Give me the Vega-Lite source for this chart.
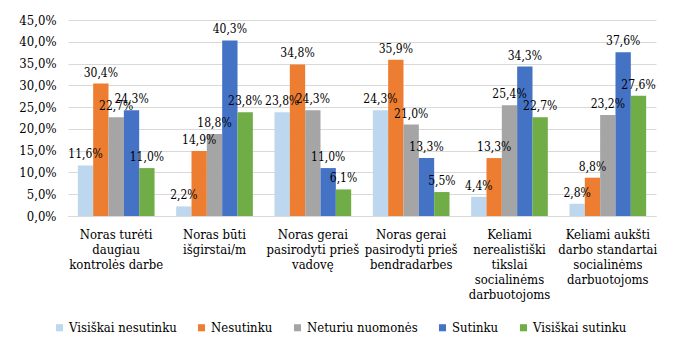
{
  "$schema": "https://vega.github.io/schema/vega-lite/v6.json",
  "autosize": "none",
  "width": 588,
  "height": 196,
  "padding": {"left": 68, "top": 20, "right": 44, "bottom": 132},
  "background": "white",
  "config": {
    "locale": {"number": {"decimal": ",", "thousands": " ", "grouping": [3], "currency": ["", " €"]}},
    "font": "'DejaVu Serif Condensed', 'DejaVu Serif', serif",
    "view": {"stroke": null}
  },
  "data": {
    "values": [
      {"cat": "Noras turėti|daugiau|kontrolės darbe", "ans": "Visiškai nesutinku", "v": 0.116},
      {"cat": "Noras turėti|daugiau|kontrolės darbe", "ans": "Nesutinku", "v": 0.304},
      {"cat": "Noras turėti|daugiau|kontrolės darbe", "ans": "Neturiu nuomonės", "v": 0.227},
      {"cat": "Noras turėti|daugiau|kontrolės darbe", "ans": "Sutinku", "v": 0.243},
      {"cat": "Noras turėti|daugiau|kontrolės darbe", "ans": "Visiškai sutinku", "v": 0.110},
      {"cat": "Noras būti|išgirstai/m", "ans": "Visiškai nesutinku", "v": 0.022},
      {"cat": "Noras būti|išgirstai/m", "ans": "Nesutinku", "v": 0.149},
      {"cat": "Noras būti|išgirstai/m", "ans": "Neturiu nuomonės", "v": 0.188},
      {"cat": "Noras būti|išgirstai/m", "ans": "Sutinku", "v": 0.403},
      {"cat": "Noras būti|išgirstai/m", "ans": "Visiškai sutinku", "v": 0.238},
      {"cat": "Noras gerai|pasirodyti prieš|vadovę", "ans": "Visiškai nesutinku", "v": 0.238},
      {"cat": "Noras gerai|pasirodyti prieš|vadovę", "ans": "Nesutinku", "v": 0.348},
      {"cat": "Noras gerai|pasirodyti prieš|vadovę", "ans": "Neturiu nuomonės", "v": 0.243},
      {"cat": "Noras gerai|pasirodyti prieš|vadovę", "ans": "Sutinku", "v": 0.110},
      {"cat": "Noras gerai|pasirodyti prieš|vadovę", "ans": "Visiškai sutinku", "v": 0.061},
      {"cat": "Noras gerai|pasirodyti prieš|bendradarbes", "ans": "Visiškai nesutinku", "v": 0.243},
      {"cat": "Noras gerai|pasirodyti prieš|bendradarbes", "ans": "Nesutinku", "v": 0.359},
      {"cat": "Noras gerai|pasirodyti prieš|bendradarbes", "ans": "Neturiu nuomonės", "v": 0.210},
      {"cat": "Noras gerai|pasirodyti prieš|bendradarbes", "ans": "Sutinku", "v": 0.133},
      {"cat": "Noras gerai|pasirodyti prieš|bendradarbes", "ans": "Visiškai sutinku", "v": 0.055},
      {"cat": "Keliami|nerealistiški|tikslai|socialinėms|darbuotojoms", "ans": "Visiškai nesutinku", "v": 0.044},
      {"cat": "Keliami|nerealistiški|tikslai|socialinėms|darbuotojoms", "ans": "Nesutinku", "v": 0.133},
      {"cat": "Keliami|nerealistiški|tikslai|socialinėms|darbuotojoms", "ans": "Neturiu nuomonės", "v": 0.254},
      {"cat": "Keliami|nerealistiški|tikslai|socialinėms|darbuotojoms", "ans": "Sutinku", "v": 0.343},
      {"cat": "Keliami|nerealistiški|tikslai|socialinėms|darbuotojoms", "ans": "Visiškai sutinku", "v": 0.227},
      {"cat": "Keliami aukšti|darbo standartai|socialinėms|darbuotojoms", "ans": "Visiškai nesutinku", "v": 0.028},
      {"cat": "Keliami aukšti|darbo standartai|socialinėms|darbuotojoms", "ans": "Nesutinku", "v": 0.088},
      {"cat": "Keliami aukšti|darbo standartai|socialinėms|darbuotojoms", "ans": "Neturiu nuomonės", "v": 0.232},
      {"cat": "Keliami aukšti|darbo standartai|socialinėms|darbuotojoms", "ans": "Sutinku", "v": 0.376},
      {"cat": "Keliami aukšti|darbo standartai|socialinėms|darbuotojoms", "ans": "Visiškai sutinku", "v": 0.276}
    ]
  },
  "encoding": {
    "x": {
      "field": "cat", "type": "nominal", "sort": null, "title": null,
      "scale": {"paddingInner": 0.22, "paddingOuter": 0.1},
      "axis": {
        "labelExpr": "split(datum.label, '|')",
        "labelAngle": 0, "labelFontSize": 13, "labelColor": "#000000",
        "labelPadding": 12, "labelLineHeight": 15, "labelBaseline": "top",
        "ticks": false, "domainColor": "#D9D9D9"
      }
    },
    "xOffset": {
      "field": "ans", "type": "nominal", "sort": null,
      "scale": {"domain": ["Visiškai nesutinku", "Nesutinku", "Neturiu nuomonės", "Sutinku", "Visiškai sutinku"], "paddingInner": 0, "paddingOuter": 0}
    },
    "y": {
      "field": "v", "type": "quantitative", "title": null,
      "scale": {"domain": [0, 0.45]},
      "axis": {
        "values": [0, 0.05, 0.1, 0.15, 0.2, 0.25, 0.3, 0.35, 0.4, 0.45],
        "format": ".1%", "labelFontSize": 13, "labelColor": "#000000",
        "labelPadding": 12, "ticks": false, "domain": false,
        "gridColor": "#D9D9D9"
      }
    }
  },
  "layer": [
    {
      "mark": {"type": "bar"},
      "encoding": {
        "color": {
          "field": "ans", "type": "nominal", "sort": null, "title": null,
          "scale": {
            "domain": ["Visiškai nesutinku", "Nesutinku", "Neturiu nuomonės", "Sutinku", "Visiškai sutinku"],
            "range": ["#BDD7EE", "#ED7D31", "#A5A5A5", "#4472C4", "#70AD47"]
          },
          "legend": {
            "orient": "none", "direction": "horizontal", "columns": 5,
            "legendX": -15, "legendY": 301,
            "symbolType": "square", "symbolSize": 50, "symbolStrokeWidth": 0,
            "labelFontSize": 13, "labelColor": "#000000",
            "columnPadding": 18, "labelOffset": 3
          }
        }
      }
    },
    {
      "mark": {"type": "text", "baseline": "bottom", "dy": -4, "fontSize": 12, "color": "#000000"},
      "encoding": {
        "text": {"field": "v", "type": "quantitative", "format": ".1%"}
      }
    }
  ]
}
